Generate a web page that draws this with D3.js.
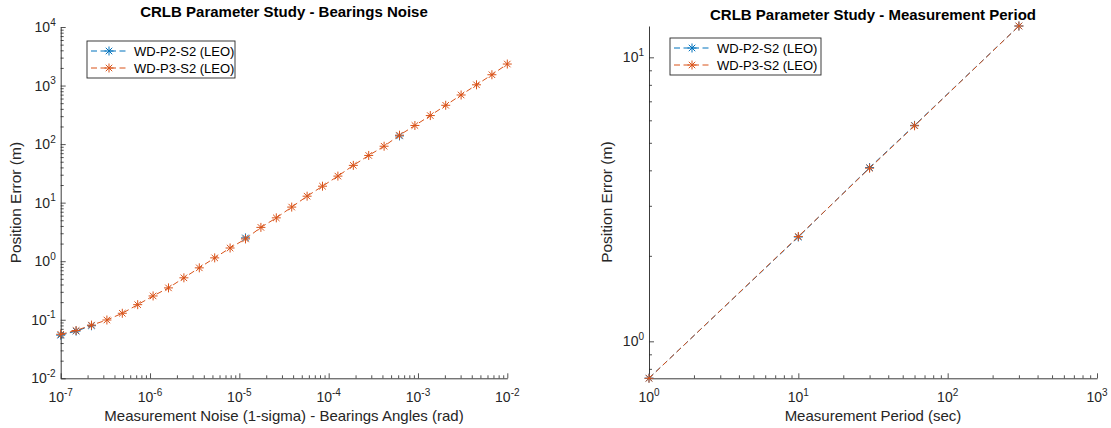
<!DOCTYPE html>
<html><head><meta charset="utf-8">
<script src="https://cdn.jsdelivr.net/npm/d3@7"></script>
<style>
html,body{margin:0;padding:0;background:#fff;}
svg{display:block;font-family:"Liberation Sans",Arial,Helvetica,sans-serif;}
</style></head>
<body>
<svg id="chart" width="1111" height="428"></svg>
<script>
// ---------- data ----------
// Left plot: bearings noise (rad) vs position error (m)
const noiseX = [1e-7,1.487e-7,2.212e-7,3.290e-7,4.894e-7,7.279e-7,1.0827e-6,1.610e-6,2.395e-6,3.562e-6,
  5.298e-6,7.880e-6,1.172e-5,1.743e-5,2.593e-5,3.857e-5,5.736e-5,8.532e-5,1.269e-4,1.888e-4,
  2.808e-4,4.176e-4,6.211e-4,9.237e-4,1.374e-3,2.044e-3,3.040e-3,4.521e-3,6.725e-3,1e-2];
const noiseP2 = [0.0545,0.064,0.079,null,null,null,null,null,null,null,
  null,null,2.5,null,null,null,null,null,null,null,
  null,null,138,null,null,null,null,null,null,null];
const noiseP3 = [0.0565,0.0655,0.081,0.099,0.129,0.181,0.255,0.35,0.52,0.77,
  1.14,1.68,2.40,3.78,5.5,8.4,12.9,19.1,28.4,43.3,
  64,92,142,208,307,460,690,1030,1530,2330];
// Right plot: measurement period (sec) vs position error (m)
const periodX = [1,10,30,60,300];
const periodP2 = [0.742,2.33,4.09,5.76,12.89];
const periodP3 = [0.741,2.34,4.07,5.74,12.89];

const seriesNames = ["WD-P2-S2 (LEO)","WD-P3-S2 (LEO)"];
const seriesColors = ["#0072BD","#D95319"];

const leftXExp = [-7,-6,-5,-4,-3,-2];
const leftYExp = [-2,-1,0,1,2,3,4];
const rightXExp = [0,1,2,3];
const rightYExp = [0,1];

const titles = ["CRLB Parameter Study - Bearings Noise","CRLB Parameter Study - Measurement Period"];
const xLabels = ["Measurement Noise (1-sigma) - Bearings Angles (rad)","Measurement Period (sec)"];
const yLabel = "Position Error (m)";

// ---------- drawing ----------
const svg = d3.select("#chart");
const axisColor = "#262626";

function minorTicks(domain){
  const lo = Math.floor(Math.log10(domain[0]))-1, hi = Math.ceil(Math.log10(domain[1]))+1;
  const out=[];
  for(let e=lo;e<=hi;e++) for(let m=2;m<=9;m++){const v=m*Math.pow(10,e); if(v>=domain[0]*0.9999 && v<=domain[1]*1.0001) out.push(v);}
  return out;
}

function asterisk(r){
  const d=r*0.72;
  return `M${-r},0H${r}M0,${-r}V${r}M${-d},${-d}L${d},${d}M${-d},${d}L${d},${-d}`;
}

function panel(cfg){
  const g = svg.append("g");
  const x = d3.scaleLog().domain(cfg.xDomain).range(cfg.xRange);
  const y = d3.scaleLog().domain(cfg.yDomain).range(cfg.yRange);

  const ax = g.append("g").attr("transform",`translate(0,${cfg.yRange[0]})`);
  ax.call(d3.axisBottom(x).tickValues(cfg.xExp.map(e=>Math.pow(10,e))).tickFormat("").tickSize(-5).tickSizeOuter(0));
  ax.append("g").call(d3.axisBottom(x).tickValues(minorTicks(cfg.xDomain)).tickFormat("").tickSize(-3).tickSizeOuter(0))
    .select(".domain").remove();
  const ay = g.append("g").attr("transform",`translate(${cfg.xRange[0]},0)`);
  ay.call(d3.axisLeft(y).tickValues(cfg.yExp.map(e=>Math.pow(10,e))).tickFormat("").tickSize(-5).tickSizeOuter(0));
  ay.append("g").call(d3.axisLeft(y).tickValues(minorTicks(cfg.yDomain)).tickFormat("").tickSize(-3).tickSizeOuter(0))
    .select(".domain").remove();
  g.selectAll(".domain").attr("stroke",axisColor).attr("stroke-width",0.9);
  g.selectAll(".tick line").attr("stroke",axisColor).attr("stroke-width",0.8);

  cfg.xExp.forEach(e=>{
    const t = g.append("text").attr("x",x(Math.pow(10,e))).attr("y",cfg.yRange[0]+24)
      .attr("text-anchor","middle").attr("fill",axisColor).attr("font-size",14);
    t.append("tspan").text("10");
    t.append("tspan").attr("font-size",10).attr("dy",-6.5).text(e);
  });
  cfg.yExp.forEach(e=>{
    const t = g.append("text").attr("x",cfg.xRange[0]-5).attr("y",y(Math.pow(10,e))+5)
      .attr("text-anchor","end").attr("fill",axisColor).attr("font-size",14);
    t.append("tspan").text("10");
    t.append("tspan").attr("font-size",10).attr("dy",-6.5).text(e);
  });

  const cx = (cfg.xRange[0]+cfg.xRange[1])/2;
  g.append("text").attr("x",cx).attr("y",cfg.titleY).attr("text-anchor","middle")
    .attr("font-weight","bold").attr("font-size",15).attr("fill","#000").text(cfg.title);
  g.append("text").attr("x",cx).attr("y",421).attr("text-anchor","middle")
    .attr("font-size",15).attr("fill",axisColor).text(cfg.xLabel);
  const cy = (cfg.yRange[0]+cfg.yRange[1])/2;
  g.append("text").attr("transform",`translate(${cfg.yLabelX},${cy}) rotate(-90)`).attr("text-anchor","middle")
    .attr("font-size",15.5).attr("fill",axisColor).text(yLabel);

  cfg.series.forEach((vals,i)=>{
    const pts = cfg.xData.map((xv,k)=>({x:xv,y:vals[k]}));
    const line = d3.line().defined(d=>d.y!=null).x(d=>x(d.x)).y(d=>y(d.y));
    g.append("path").datum(pts).attr("d",line).attr("fill","none")
      .attr("stroke",seriesColors[i]).attr("stroke-width",1).attr("stroke-dasharray","6,3.5");
    g.append("g").selectAll("path").data(pts.filter(d=>d.y!=null)).join("path")
      .attr("transform",d=>`translate(${x(d.x)},${y(d.y)})`)
      .attr("d",asterisk(4.5)).attr("fill","none").attr("stroke",seriesColors[i]).attr("stroke-width",1);
  });

  const L = cfg.legend;
  const lg = g.append("g");
  lg.append("rect").attr("x",L.x).attr("y",L.y).attr("width",L.w).attr("height",L.h)
    .attr("fill","#fff").attr("stroke",axisColor).attr("stroke-width",0.9);
  seriesNames.forEach((nm,i)=>{
    const ry = L.y+10+i*17;
    lg.append("line").attr("x1",L.x+4).attr("x2",L.x+40).attr("y1",ry).attr("y2",ry)
      .attr("stroke",seriesColors[i]).attr("stroke-width",1).attr("stroke-dasharray","6,3.5");
    lg.append("path").attr("transform",`translate(${L.x+22},${ry})`).attr("d",asterisk(4.5))
      .attr("fill","none").attr("stroke",seriesColors[i]).attr("stroke-width",1);
    lg.append("text").attr("x",L.x+47).attr("y",ry+4.5).attr("font-size",13).attr("fill","#000").text(nm);
  });
}

panel({id:"L", xDomain:[1e-7,1e-2], yDomain:[1e-2,1e4], xRange:[60.7,507.3], yRange:[378.3,27],
  xExp:leftXExp, yExp:leftYExp, title:titles[0], titleY:17, xLabel:xLabels[0], yLabelX:21,
  xData:noiseX, series:[noiseP2,noiseP3], legend:{x:87,y:41,w:148,h:37}});

panel({id:"R", xDomain:[1,1000], yDomain:d3.extent(periodP2.concat(periodP3)), xRange:[649,1097], yRange:[378.3,26],
  xExp:rightXExp, yExp:rightYExp, title:titles[1], titleY:20, xLabel:xLabels[1], yLabelX:612,
  xData:periodX, series:[periodP2,periodP3], legend:{x:670,y:38,w:151,h:37}});
</script>
</body></html>
